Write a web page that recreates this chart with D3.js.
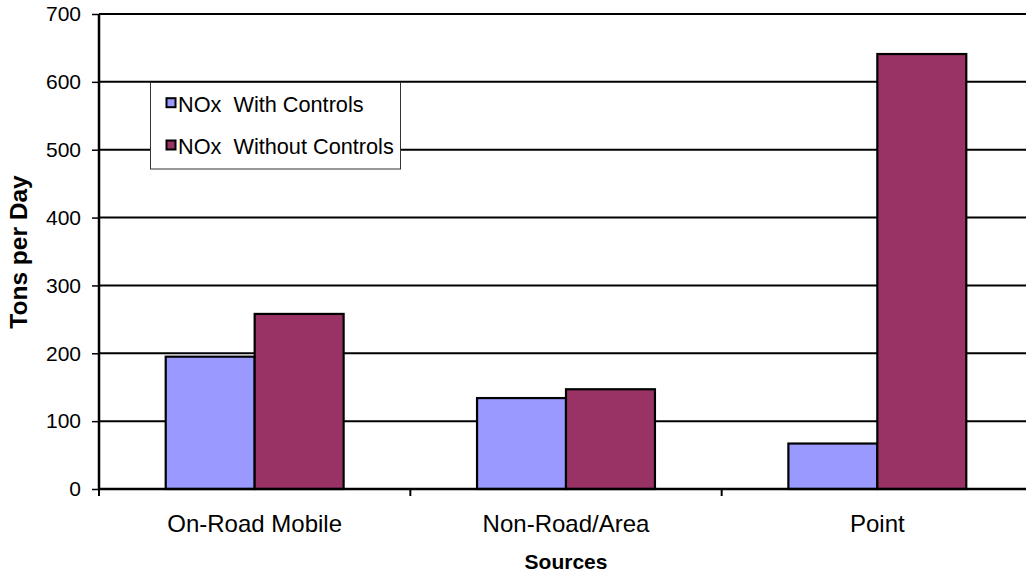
<!DOCTYPE html>
<html>
<head>
<meta charset="utf-8">
<script src="https://cdn.jsdelivr.net/npm/d3@7"></script>
<style>
  body { margin: 0; background: #fff; }
  svg { display: block; font-family: "Liberation Sans", Arial, sans-serif; }
  text { white-space: pre; }
</style>
</head>
<body>
<svg id="chart" width="1026" height="578"></svg>
<script>
/* chart data */
const categories = ["On-Road Mobile", "Non-Road/Area", "Point"];
const seriesNames = ["NOx  With Controls", "NOx  Without Controls"];
const withControls = [195, 134, 67];
const withoutControls = [258, 147, 641];
const yTicks = [0, 100, 200, 300, 400, 500, 600, 700];
const colors = ["#9999FF", "#993366"];

const svg = d3.select("#chart");
const plotL = 99, plotT = 14, plotB = 489, plotR = 1033;

const x0 = d3.scaleBand().domain(categories).range([plotL, plotR]).padding(0);
const x1 = d3.scaleBand().domain(seriesNames).range([0, x0.bandwidth()])
  .paddingInner(0).paddingOuter(0.75);
const y = d3.scaleLinear().domain([0, 700]).range([plotB, plotT]);

/* gridlines */
svg.append("g").selectAll("line").data(yTicks.filter(d => d > 0)).join("line")
  .attr("x1", plotL).attr("x2", plotR)
  .attr("y1", d => y(d)).attr("y2", d => y(d))
  .attr("stroke", "#000").attr("stroke-width", 2);

/* bars */
const rows = categories.map((c, i) => ({ cat: c, vals: [withControls[i], withoutControls[i]] }));
svg.append("g").selectAll("g").data(rows).join("g")
  .attr("transform", d => `translate(${x0(d.cat)},0)`)
  .selectAll("rect").data(d => d.vals.map((v, j) => ({ s: seriesNames[j], v, j }))).join("rect")
  .attr("x", d => x1(d.s)).attr("width", x1.bandwidth())
  .attr("y", d => y(d.v)).attr("height", d => y(0) - y(d.v))
  .attr("fill", d => colors[d.j]).attr("stroke", "#000").attr("stroke-width", 2.2);

/* y axis */
const yAxis = svg.append("g").attr("transform", `translate(${plotL},0)`)
  .call(d3.axisLeft(y).tickValues(yTicks).tickSize(7).tickPadding(11).tickFormat(d3.format("d")));
yAxis.select(".domain").remove();
yAxis.selectAll(".tick line").attr("stroke", "#000").attr("stroke-width", 1.5);
yAxis.selectAll(".tick text").attr("font-size", 21).attr("fill", "#000")
  .attr("font-family", "Liberation Sans, Arial, sans-serif");
svg.append("line").attr("x1", plotL).attr("x2", plotL).attr("y1", plotT).attr("y2", plotB)
  .attr("stroke", "#000").attr("stroke-width", 2.5);

/* x axis */
svg.append("line").attr("x1", plotL).attr("x2", plotR).attr("y1", plotB).attr("y2", plotB)
  .attr("stroke", "#000").attr("stroke-width", 2.5);
svg.append("g").selectAll("line").data(categories).join("line")
  .attr("x1", d => x0(d)).attr("x2", d => x0(d))
  .attr("y1", plotB).attr("y2", plotB + 7)
  .attr("stroke", "#000").attr("stroke-width", 2);
svg.append("g").selectAll("text").data(categories).join("text")
  .attr("x", d => x0(d) + x0.bandwidth() / 2).attr("y", 532)
  .attr("text-anchor", "middle").attr("font-size", 24).text(d => d);

/* axis titles */
svg.append("text").attr("x", 566).attr("y", 569).attr("text-anchor", "middle")
  .attr("font-size", 21).attr("font-weight", "bold").text("Sources");
svg.append("text").attr("transform", "translate(27,252) rotate(-90)")
  .attr("text-anchor", "middle").attr("font-size", 24.5).attr("font-weight", "bold")
  .text("Tons per Day");

/* legend */
const legend = svg.append("g");
legend.append("rect").attr("x", 150.5).attr("y", 82.5).attr("width", 250).attr("height", 86.5)
  .attr("fill", "#fff").attr("stroke", "#333").attr("stroke-width", 1);
seriesNames.forEach((s, i) => {
  const yy = 111.7 + i * 42.3;
  legend.append("rect").attr("x", 166.5).attr("y", yy - 13.5).attr("width", 9).attr("height", 9)
    .attr("fill", colors[i]).attr("stroke", "#000").attr("stroke-width", 2);
  legend.append("text").attr("x", 178).attr("y", yy).attr("font-size", 21.7).text(s);
});
</script>
</body>
</html>
